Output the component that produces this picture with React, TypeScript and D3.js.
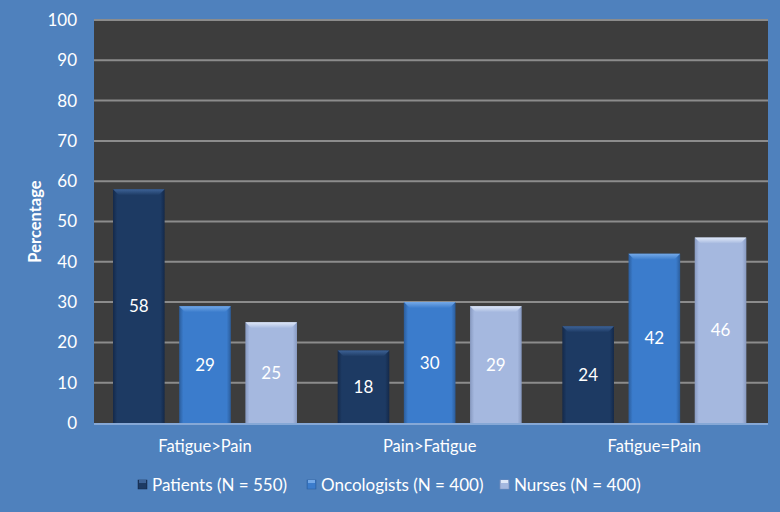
import React from "react";
import * as d3 from "d3";

const categories = ["Fatigue>Pain", "Pain>Fatigue", "Fatigue=Pain"];
const seriesNames = ["Patients (N = 550)", "Oncologists (N = 400)", "Nurses (N = 400)"];
const patients = [58, 18, 24];
const oncologists = [29, 30, 42];
const nurses = [25, 29, 46];
const yTicks = [0, 10, 20, 30, 40, 50, 60, 70, 80, 90, 100];

const seriesValues = [patients, oncologists, nurses];
const baseColors = ["#1d3a63", "#3b7ccc", "#a5b8df"];
const lightColors = ["#3d6296", "#74a9e8", "#dfe8f8"];
const darkColors = ["#14294a", "#2b5d9c", "#8799c0"];

const W = 780, H = 512;
const M = { left: 94, right: 768, top: 20, bottom: 423 };
const FONT = "Lato, 'Open Sans', sans-serif";

export default function App() {
  const x0 = d3.scaleBand().domain(categories).range([M.left, M.right]);
  const x1 = d3.scaleBand().domain(["0", "1", "2"]).range([19, 203]).paddingInner(0.22);
  const y = d3.scaleLinear().domain([0, 100]).range([M.bottom, M.top]);

  const bev = 6;
  return (
    <svg width={W} height={H} style={{ position: "absolute", left: 0, top: 0 }}>
      <defs>
        {baseColors.map((c, i) => (
          <linearGradient key={i} id={`side${i}`} x1="0" x2="1" y1="0" y2="0">
            <stop offset="0" stopColor={darkColors[i]} />
            <stop offset="0.08" stopColor={c} />
            <stop offset="0.92" stopColor={c} />
            <stop offset="1" stopColor={darkColors[i]} />
          </linearGradient>
        ))}
        {baseColors.map((c, i) => (
          <linearGradient key={i} id={`top${i}`} x1="0" x2="0" y1="0" y2="1">
            <stop offset="0" stopColor={lightColors[i]} />
            <stop offset="1" stopColor={c} />
          </linearGradient>
        ))}
      </defs>
      <rect x={0} y={0} width={W} height={H} fill="#4f81bd" />
      <rect x={M.left} y={M.top} width={M.right - M.left} height={M.bottom - M.top} fill="#3d3d3d" />
      {yTicks.map((t) => (
        <g key={t}>
          {t > 0 && <line x1={M.left} x2={M.right} y1={y(t)} y2={y(t)} stroke="#8c8c8c" strokeWidth={2} />}
          <text x={77} y={y(t)} dy="0.35em" textAnchor="end" fill="#ffffff" fontFamily={FONT} fontSize={17}>{t}</text>
        </g>
      ))}
      <line x1={M.left} x2={M.right} y1={M.bottom + 1} y2={M.bottom + 1} stroke="#86a8d6" strokeWidth={2} />
      {categories.map((cat, ci) => (
        <g key={cat}>
          {seriesValues.map((vals, si) => {
            const bx = (x0(cat) as number) + (x1(String(si)) as number);
            const bw = x1.bandwidth();
            const by = y(vals[ci]);
            const bh = M.bottom - by;
            return (
              <g key={si}>
                <rect x={bx} y={by} width={bw} height={bh} fill={`url(#side${si})`} />
                <path d={`M${bx},${by} L${bx + bw},${by} L${bx + bw - bev},${by + bev} L${bx + bev},${by + bev} Z`} fill={`url(#top${si})`} />
                <text x={bx + bw / 2} y={(by + M.bottom) / 2} dy="0.35em" textAnchor="middle" fill="#ffffff" fontFamily={FONT} fontSize={17}>{vals[ci]}</text>
              </g>
            );
          })}
          <text x={(x0(cat) as number) + 111} y={446} dy="0.35em" textAnchor="middle" fill="#ffffff" fontFamily={FONT} fontSize={16.5}>{cat}</text>
        </g>
      ))}
      <text transform={`translate(35,${(M.top + M.bottom) / 2}) rotate(-90)`} textAnchor="middle" dy="0.35em" fill="#ffffff" fontFamily={FONT} fontSize={16.5} fontWeight="bold">Percentage</text>
      {seriesNames.map((n, i) => {
        const lx = [138, 307, 500][i];
        return (
          <g key={n}>
            <rect x={lx} y={480} width={9} height={9} fill={`url(#side${i})`} stroke={darkColors[i]} strokeWidth={0.5} />
            <rect x={lx + 1} y={480} width={7} height={3} fill={lightColors[i]} />
            <text x={lx + 14} y={485} dy="0.35em" fill="#ffffff" fontFamily={FONT} fontSize={17}>{n}</text>
          </g>
        );
      })}
    </svg>
  );
}
